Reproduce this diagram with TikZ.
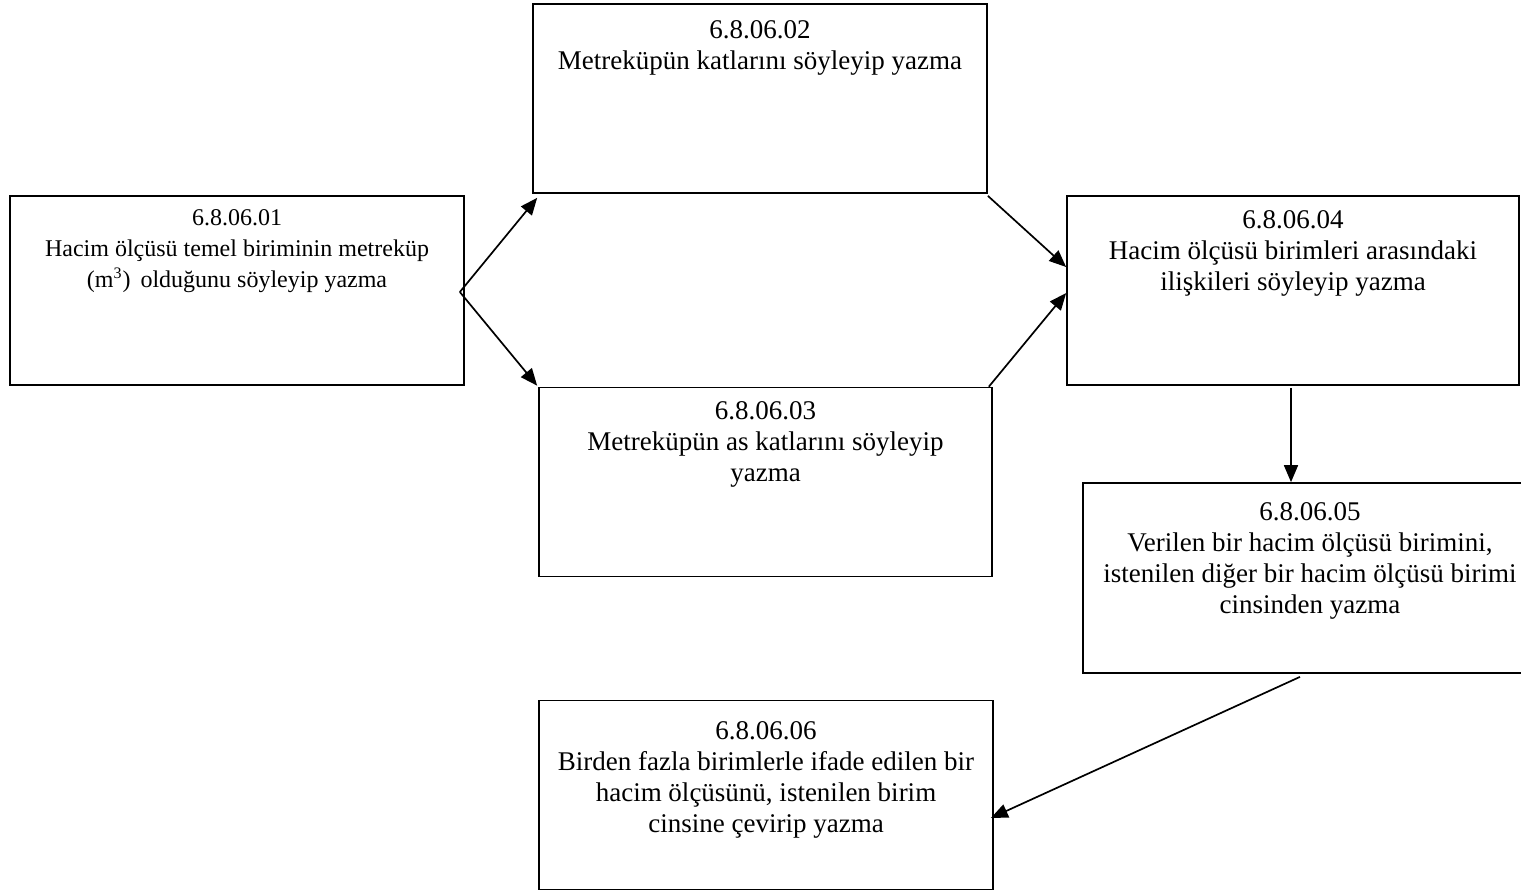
\documentclass[tikz,border=0pt]{standalone}
\usepackage{fontspec}
\setmainfont{Liberation Serif}
\usetikzlibrary{positioning, arrows.meta}

\begin{document}
\begin{tikzpicture}[x=0.5pt, y=-0.5pt,
  goal/.style={draw, line width=0.85pt, inner sep=0pt,
    minimum width=227pt, minimum height=94.5pt},
  goaltext/.style={inner sep=0pt, align=center,
    font=\fontsize{13.5}{15.5}\selectfont},
  arrow/.style={-{Triangle[length=8.5pt, width=7pt]}, line width=0.85pt}]
\useasboundingbox (0,0) rectangle (1521,890);
\node[goal] (g1) at (237,290.5) {};
\node[goal] (g2) at (760,98.5) {};
\node[goal, minimum width=226.5pt] (g3) at (765.5,482) {};
\node[goal, minimum width=226pt] (g4) at (1293,290.5) {};
\node[goal, minimum width=230pt, minimum height=95pt] (g5) at (1313,578) {};
\node[goal] (g6) at (766,795) {};
\node[goaltext, font=\fontsize{12}{15.5}\selectfont, below=7pt of g1.north] (t1)
  {6.8.06.01\\Hacim ölçüsü temel biriminin metreküp\\(m\textsuperscript{3})\, olduğunu söyleyip yazma};
\node[goaltext, below=8.5pt of g2.north] (t2)
  {6.8.06.02\\Metreküpün katlarını söyleyip yazma};
\node[goaltext, below=7pt of g3.north] (t3)
  {6.8.06.03\\Metreküpün as katlarını söyleyip\\yazma};
\node[goaltext, below=7.5pt of g4.north] (t4)
  {6.8.06.04\\Hacim ölçüsü birimleri arasındaki\\ilişkileri söyleyip yazma};
\node[goaltext, below=10pt of g5.north, xshift=-1.5pt] (t5)
  {6.8.06.05\\Verilen bir hacim ölçüsü birimini,\\istenilen diğer bir hacim ölçüsü birimi\\cinsinden yazma};
\node[goaltext, below=10.5pt of g6.north] (t6)
  {6.8.06.06\\Birden fazla birimlerle ifade edilen bir\\hacim ölçüsünü, istenilen birim\\cinsine çevirip yazma};
\coordinate (fork) at ([xshift=-2.5pt, yshift=-0.75pt]g1.east);
\coordinate (drop) at ([xshift=-1pt, yshift=-1pt]g4.south);
\draw[arrow] (fork) -- ([xshift=2.5pt, yshift=-2pt]g2.south west);
\draw[arrow] (fork) -- ([xshift=-0.5pt, yshift=0.5pt]g3.north west);
\draw[arrow] ([yshift=-1pt]g2.south east) -- ([yshift=11.75pt]g4.west);
\draw[arrow] ([xshift=-2pt]g3.north east) -- ([yshift=-1.25pt]g4.west);
\draw[arrow] (drop) -- (drop |- g5.north);
\draw[arrow] ([xshift=-6.5pt, yshift=-1.5pt]g5.south) -- ([xshift=-1.5pt, yshift=-11.5pt]g6.east);
\end{tikzpicture}
\end{document}
